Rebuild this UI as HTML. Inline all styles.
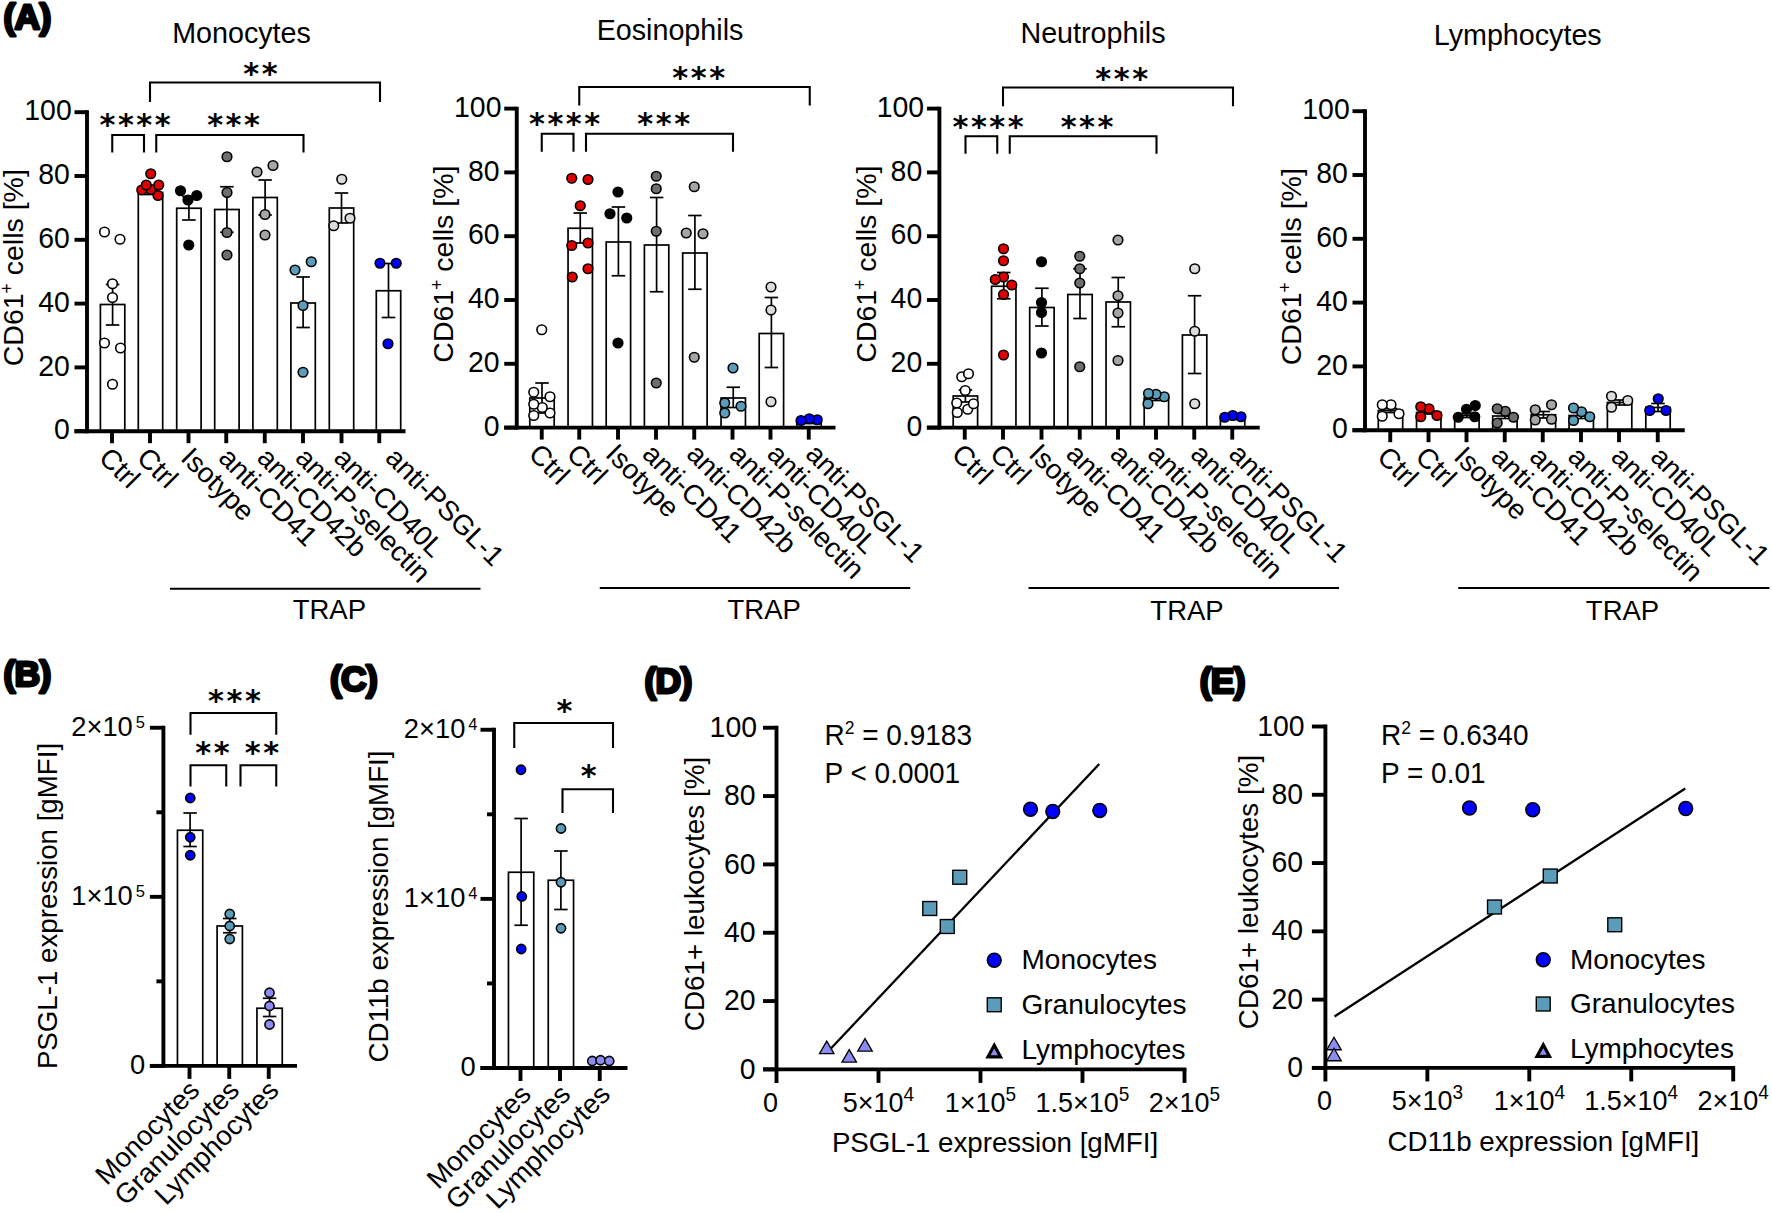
<!DOCTYPE html>
<html lang="en"><head><meta charset="utf-8"><title>Figure</title>
<style>html,body{margin:0;padding:0;background:#fff}svg{display:block}text{font-family:'Liberation Sans', Arial, Helvetica, sans-serif;fill:#000}text.st{font-family:"DejaVu Sans",sans-serif}</style>
</head><body>
<svg width="1772" height="1213" viewBox="0 0 1772 1213">
<rect x="0" y="0" width="1772" height="1213" fill="#fff"/>
<g>
<text x="241.50" y="42.50" font-size="28.7" text-anchor="middle">Monocytes</text>
<rect x="100.40" y="304.50" width="24.40" height="126.70" fill="#fff" stroke="#000" stroke-width="1.7"/>
<rect x="138.30" y="192.50" width="24.40" height="238.70" fill="#fff" stroke="#000" stroke-width="1.7"/>
<rect x="176.70" y="208.25" width="24.40" height="222.95" fill="#fff" stroke="#000" stroke-width="1.7"/>
<rect x="214.70" y="209.50" width="24.40" height="221.70" fill="#fff" stroke="#000" stroke-width="1.7"/>
<rect x="252.90" y="197.50" width="24.40" height="233.70" fill="#fff" stroke="#000" stroke-width="1.7"/>
<rect x="290.90" y="303.00" width="24.40" height="128.20" fill="#fff" stroke="#000" stroke-width="1.7"/>
<rect x="329.30" y="208.00" width="24.40" height="223.20" fill="#fff" stroke="#000" stroke-width="1.7"/>
<rect x="376.30" y="290.75" width="24.40" height="140.45" fill="#fff" stroke="#000" stroke-width="1.7"/>
<line x1="112.60" y1="284.50" x2="112.60" y2="325.00" stroke="#000" stroke-width="1.7" stroke-linecap="butt"/>
<line x1="105.85" y1="284.50" x2="119.35" y2="284.50" stroke="#000" stroke-width="1.7" stroke-linecap="butt"/>
<line x1="105.85" y1="325.00" x2="119.35" y2="325.00" stroke="#000" stroke-width="1.7" stroke-linecap="butt"/>
<line x1="150.50" y1="190.50" x2="150.50" y2="194.50" stroke="#000" stroke-width="1.7" stroke-linecap="butt"/>
<line x1="143.75" y1="190.50" x2="157.25" y2="190.50" stroke="#000" stroke-width="1.7" stroke-linecap="butt"/>
<line x1="143.75" y1="194.50" x2="157.25" y2="194.50" stroke="#000" stroke-width="1.7" stroke-linecap="butt"/>
<line x1="188.90" y1="196.50" x2="188.90" y2="220.00" stroke="#000" stroke-width="1.7" stroke-linecap="butt"/>
<line x1="182.15" y1="196.50" x2="195.65" y2="196.50" stroke="#000" stroke-width="1.7" stroke-linecap="butt"/>
<line x1="182.15" y1="220.00" x2="195.65" y2="220.00" stroke="#000" stroke-width="1.7" stroke-linecap="butt"/>
<line x1="226.90" y1="186.75" x2="226.90" y2="232.25" stroke="#000" stroke-width="1.7" stroke-linecap="butt"/>
<line x1="220.15" y1="186.75" x2="233.65" y2="186.75" stroke="#000" stroke-width="1.7" stroke-linecap="butt"/>
<line x1="220.15" y1="232.25" x2="233.65" y2="232.25" stroke="#000" stroke-width="1.7" stroke-linecap="butt"/>
<line x1="265.10" y1="180.00" x2="265.10" y2="215.00" stroke="#000" stroke-width="1.7" stroke-linecap="butt"/>
<line x1="258.35" y1="180.00" x2="271.85" y2="180.00" stroke="#000" stroke-width="1.7" stroke-linecap="butt"/>
<line x1="258.35" y1="215.00" x2="271.85" y2="215.00" stroke="#000" stroke-width="1.7" stroke-linecap="butt"/>
<line x1="303.10" y1="277.00" x2="303.10" y2="327.50" stroke="#000" stroke-width="1.7" stroke-linecap="butt"/>
<line x1="296.35" y1="277.00" x2="309.85" y2="277.00" stroke="#000" stroke-width="1.7" stroke-linecap="butt"/>
<line x1="296.35" y1="327.50" x2="309.85" y2="327.50" stroke="#000" stroke-width="1.7" stroke-linecap="butt"/>
<line x1="341.50" y1="193.00" x2="341.50" y2="223.00" stroke="#000" stroke-width="1.7" stroke-linecap="butt"/>
<line x1="334.75" y1="193.00" x2="348.25" y2="193.00" stroke="#000" stroke-width="1.7" stroke-linecap="butt"/>
<line x1="334.75" y1="223.00" x2="348.25" y2="223.00" stroke="#000" stroke-width="1.7" stroke-linecap="butt"/>
<line x1="388.50" y1="263.50" x2="388.50" y2="317.50" stroke="#000" stroke-width="1.7" stroke-linecap="butt"/>
<line x1="381.75" y1="263.50" x2="395.25" y2="263.50" stroke="#000" stroke-width="1.7" stroke-linecap="butt"/>
<line x1="381.75" y1="317.50" x2="395.25" y2="317.50" stroke="#000" stroke-width="1.7" stroke-linecap="butt"/>
<circle cx="112.50" cy="384.25" r="4.8" fill="#ffffff" stroke="#000" stroke-width="1.6"/>
<circle cx="120.50" cy="348.00" r="4.8" fill="#ffffff" stroke="#000" stroke-width="1.6"/>
<circle cx="104.50" cy="343.00" r="4.8" fill="#ffffff" stroke="#000" stroke-width="1.6"/>
<circle cx="112.50" cy="297.50" r="4.8" fill="#ffffff" stroke="#000" stroke-width="1.6"/>
<circle cx="112.50" cy="283.75" r="4.8" fill="#ffffff" stroke="#000" stroke-width="1.6"/>
<circle cx="120.00" cy="239.25" r="4.8" fill="#ffffff" stroke="#000" stroke-width="1.6"/>
<circle cx="104.50" cy="232.00" r="4.8" fill="#ffffff" stroke="#000" stroke-width="1.6"/>
<circle cx="158.00" cy="195.50" r="4.8" fill="#e00000" stroke="#000" stroke-width="1.6"/>
<circle cx="150.75" cy="189.25" r="4.8" fill="#e00000" stroke="#000" stroke-width="1.6"/>
<circle cx="141.75" cy="190.00" r="4.8" fill="#e00000" stroke="#000" stroke-width="1.6"/>
<circle cx="158.75" cy="185.00" r="4.8" fill="#e00000" stroke="#000" stroke-width="1.6"/>
<circle cx="146.25" cy="185.00" r="4.8" fill="#e00000" stroke="#000" stroke-width="1.6"/>
<circle cx="150.75" cy="173.75" r="4.8" fill="#e00000" stroke="#000" stroke-width="1.6"/>
<circle cx="188.75" cy="245.00" r="4.8" fill="#000000" stroke="#000" stroke-width="1.6"/>
<circle cx="188.00" cy="200.00" r="4.8" fill="#000000" stroke="#000" stroke-width="1.6"/>
<circle cx="196.75" cy="195.50" r="4.8" fill="#000000" stroke="#000" stroke-width="1.6"/>
<circle cx="180.50" cy="190.75" r="4.8" fill="#000000" stroke="#000" stroke-width="1.6"/>
<circle cx="227.00" cy="255.00" r="4.8" fill="#6e6e6e" stroke="#000" stroke-width="1.6"/>
<circle cx="227.00" cy="232.50" r="4.8" fill="#6e6e6e" stroke="#000" stroke-width="1.6"/>
<circle cx="227.00" cy="192.50" r="4.8" fill="#6e6e6e" stroke="#000" stroke-width="1.6"/>
<circle cx="227.00" cy="156.75" r="4.8" fill="#6e6e6e" stroke="#000" stroke-width="1.6"/>
<circle cx="265.00" cy="235.00" r="4.8" fill="#a6a6a6" stroke="#000" stroke-width="1.6"/>
<circle cx="265.00" cy="214.50" r="4.8" fill="#a6a6a6" stroke="#000" stroke-width="1.6"/>
<circle cx="273.00" cy="165.50" r="4.8" fill="#a6a6a6" stroke="#000" stroke-width="1.6"/>
<circle cx="257.00" cy="172.00" r="4.8" fill="#a6a6a6" stroke="#000" stroke-width="1.6"/>
<circle cx="303.00" cy="372.25" r="4.8" fill="#5b9db8" stroke="#000" stroke-width="1.6"/>
<circle cx="303.00" cy="305.50" r="4.8" fill="#5b9db8" stroke="#000" stroke-width="1.6"/>
<circle cx="311.25" cy="261.75" r="4.8" fill="#5b9db8" stroke="#000" stroke-width="1.6"/>
<circle cx="295.00" cy="270.00" r="4.8" fill="#5b9db8" stroke="#000" stroke-width="1.6"/>
<circle cx="350.00" cy="218.25" r="4.8" fill="#dcdcdc" stroke="#000" stroke-width="1.6"/>
<circle cx="333.75" cy="225.75" r="4.8" fill="#dcdcdc" stroke="#000" stroke-width="1.6"/>
<circle cx="341.75" cy="179.25" r="4.8" fill="#dcdcdc" stroke="#000" stroke-width="1.6"/>
<circle cx="388.00" cy="343.75" r="4.8" fill="#0000ff" stroke="#000" stroke-width="1.6"/>
<circle cx="396.25" cy="263.25" r="4.8" fill="#0000ff" stroke="#000" stroke-width="1.6"/>
<circle cx="380.00" cy="263.25" r="4.8" fill="#0000ff" stroke="#000" stroke-width="1.6"/>
<line x1="87.00" y1="110.25" x2="87.00" y2="433.15" stroke="#000" stroke-width="3.9" stroke-linecap="butt"/>
<line x1="74.50" y1="431.20" x2="405.50" y2="431.20" stroke="#000" stroke-width="3.9" stroke-linecap="butt"/>
<line x1="74.50" y1="431.20" x2="87.00" y2="431.20" stroke="#000" stroke-width="3.9" stroke-linecap="butt"/>
<text transform="translate(69.80 439.40) scale(1 1.04)" font-size="28.4" text-anchor="end">0</text>
<line x1="74.50" y1="367.40" x2="87.00" y2="367.40" stroke="#000" stroke-width="3.9" stroke-linecap="butt"/>
<text transform="translate(69.80 375.60) scale(1 1.04)" font-size="28.4" text-anchor="end">20</text>
<line x1="74.50" y1="303.60" x2="87.00" y2="303.60" stroke="#000" stroke-width="3.9" stroke-linecap="butt"/>
<text transform="translate(69.80 311.80) scale(1 1.04)" font-size="28.4" text-anchor="end">40</text>
<line x1="74.50" y1="239.80" x2="87.00" y2="239.80" stroke="#000" stroke-width="3.9" stroke-linecap="butt"/>
<text transform="translate(69.80 248.00) scale(1 1.04)" font-size="28.4" text-anchor="end">60</text>
<line x1="74.50" y1="176.00" x2="87.00" y2="176.00" stroke="#000" stroke-width="3.9" stroke-linecap="butt"/>
<text transform="translate(69.80 184.20) scale(1 1.04)" font-size="28.4" text-anchor="end">80</text>
<line x1="74.50" y1="112.20" x2="87.00" y2="112.20" stroke="#000" stroke-width="3.9" stroke-linecap="butt"/>
<text transform="translate(71.70 120.40) scale(1 1.04)" font-size="28.4" text-anchor="end">100</text>
<line x1="112.00" y1="431.20" x2="112.00" y2="443.20" stroke="#000" stroke-width="3.9" stroke-linecap="butt"/>
<text x="97.60" y="459.20" font-size="27.9" text-anchor="start" transform="rotate(45 97.60 459.20)">Ctrl</text>
<line x1="150.00" y1="431.20" x2="150.00" y2="443.20" stroke="#000" stroke-width="3.9" stroke-linecap="butt"/>
<text x="135.60" y="459.20" font-size="27.9" text-anchor="start" transform="rotate(45 135.60 459.20)">Ctrl</text>
<line x1="188.50" y1="431.20" x2="188.50" y2="443.20" stroke="#000" stroke-width="3.9" stroke-linecap="butt"/>
<text x="179.40" y="459.20" font-size="27.9" text-anchor="start" transform="rotate(45 179.40 459.20)">Isotype</text>
<line x1="226.25" y1="431.20" x2="226.25" y2="443.20" stroke="#000" stroke-width="3.9" stroke-linecap="butt"/>
<text x="217.15" y="459.20" font-size="27.9" text-anchor="start" transform="rotate(45 217.15 459.20)">anti-CD41</text>
<line x1="264.75" y1="431.20" x2="264.75" y2="443.20" stroke="#000" stroke-width="3.9" stroke-linecap="butt"/>
<text x="255.65" y="459.20" font-size="27.9" text-anchor="start" transform="rotate(45 255.65 459.20)">anti-CD42b</text>
<line x1="303.00" y1="431.20" x2="303.00" y2="443.20" stroke="#000" stroke-width="3.9" stroke-linecap="butt"/>
<text x="293.90" y="459.20" font-size="27.9" text-anchor="start" transform="rotate(45 293.90 459.20)">anti-P-selectin</text>
<line x1="341.50" y1="431.20" x2="341.50" y2="443.20" stroke="#000" stroke-width="3.9" stroke-linecap="butt"/>
<text x="332.40" y="459.20" font-size="27.9" text-anchor="start" transform="rotate(45 332.40 459.20)">anti-CD40L</text>
<line x1="379.25" y1="431.20" x2="379.25" y2="443.20" stroke="#000" stroke-width="3.9" stroke-linecap="butt"/>
<text x="384.05" y="459.20" font-size="27.9" text-anchor="start" transform="rotate(45 384.05 459.20)">anti-PSGL-1</text>
<text x="23.50" y="267.70" font-size="28.5" text-anchor="middle" transform="rotate(-90 23.50 267.70)">CD61<tspan font-size="17.5" dy="-10">+</tspan><tspan dy="10"> cells [%]</tspan></text>
<path d="M150.00 102.00V82.50H380.00V102.00" fill="none" stroke="#000" stroke-width="2.1" stroke-linejoin="miter"/>
<text x="243.37" y="84.00" class="st" font-weight="bold" font-size="30.4" letter-spacing="2.58">**</text>
<path d="M112.25 152.50V135.00H144.00V152.50" fill="none" stroke="#000" stroke-width="2.1" stroke-linejoin="miter"/>
<text x="99.41" y="134.50" class="st" font-weight="bold" font-size="30.4" letter-spacing="2.58">****</text>
<path d="M156.25 152.50V135.00H303.50V152.50" fill="none" stroke="#000" stroke-width="2.1" stroke-linejoin="miter"/>
<text x="207.14" y="134.50" class="st" font-weight="bold" font-size="30.4" letter-spacing="2.58">***</text>
<line x1="170.00" y1="588.75" x2="480.50" y2="588.75" stroke="#000" stroke-width="1.9" stroke-linecap="butt"/>
<text x="329.30" y="619.30" font-size="27.5" text-anchor="middle">TRAP</text>
</g>
<g>
<text x="670.00" y="40.00" font-size="28.7" text-anchor="middle">Eosinophils</text>
<rect x="529.80" y="398.00" width="24.40" height="29.60" fill="#fff" stroke="#000" stroke-width="1.7"/>
<rect x="568.05" y="228.25" width="24.40" height="199.35" fill="#fff" stroke="#000" stroke-width="1.7"/>
<rect x="606.20" y="242.00" width="24.40" height="185.60" fill="#fff" stroke="#000" stroke-width="1.7"/>
<rect x="644.40" y="245.00" width="24.40" height="182.60" fill="#fff" stroke="#000" stroke-width="1.7"/>
<rect x="682.70" y="253.00" width="24.40" height="174.60" fill="#fff" stroke="#000" stroke-width="1.7"/>
<rect x="721.05" y="398.00" width="24.40" height="29.60" fill="#fff" stroke="#000" stroke-width="1.7"/>
<rect x="759.20" y="333.50" width="24.40" height="94.10" fill="#fff" stroke="#000" stroke-width="1.7"/>
<rect x="796.80" y="422.50" width="24.40" height="5.10" fill="#fff" stroke="#000" stroke-width="1.7"/>
<line x1="542.00" y1="383.00" x2="542.00" y2="413.00" stroke="#000" stroke-width="1.7" stroke-linecap="butt"/>
<line x1="535.25" y1="383.00" x2="548.75" y2="383.00" stroke="#000" stroke-width="1.7" stroke-linecap="butt"/>
<line x1="535.25" y1="413.00" x2="548.75" y2="413.00" stroke="#000" stroke-width="1.7" stroke-linecap="butt"/>
<line x1="580.25" y1="213.00" x2="580.25" y2="243.00" stroke="#000" stroke-width="1.7" stroke-linecap="butt"/>
<line x1="573.50" y1="213.00" x2="587.00" y2="213.00" stroke="#000" stroke-width="1.7" stroke-linecap="butt"/>
<line x1="573.50" y1="243.00" x2="587.00" y2="243.00" stroke="#000" stroke-width="1.7" stroke-linecap="butt"/>
<line x1="618.40" y1="207.00" x2="618.40" y2="275.75" stroke="#000" stroke-width="1.7" stroke-linecap="butt"/>
<line x1="611.65" y1="207.00" x2="625.15" y2="207.00" stroke="#000" stroke-width="1.7" stroke-linecap="butt"/>
<line x1="611.65" y1="275.75" x2="625.15" y2="275.75" stroke="#000" stroke-width="1.7" stroke-linecap="butt"/>
<line x1="656.60" y1="197.50" x2="656.60" y2="291.75" stroke="#000" stroke-width="1.7" stroke-linecap="butt"/>
<line x1="649.85" y1="197.50" x2="663.35" y2="197.50" stroke="#000" stroke-width="1.7" stroke-linecap="butt"/>
<line x1="649.85" y1="291.75" x2="663.35" y2="291.75" stroke="#000" stroke-width="1.7" stroke-linecap="butt"/>
<line x1="694.90" y1="215.50" x2="694.90" y2="289.25" stroke="#000" stroke-width="1.7" stroke-linecap="butt"/>
<line x1="688.15" y1="215.50" x2="701.65" y2="215.50" stroke="#000" stroke-width="1.7" stroke-linecap="butt"/>
<line x1="688.15" y1="289.25" x2="701.65" y2="289.25" stroke="#000" stroke-width="1.7" stroke-linecap="butt"/>
<line x1="733.25" y1="387.25" x2="733.25" y2="407.50" stroke="#000" stroke-width="1.7" stroke-linecap="butt"/>
<line x1="726.50" y1="387.25" x2="740.00" y2="387.25" stroke="#000" stroke-width="1.7" stroke-linecap="butt"/>
<line x1="726.50" y1="407.50" x2="740.00" y2="407.50" stroke="#000" stroke-width="1.7" stroke-linecap="butt"/>
<line x1="771.40" y1="297.50" x2="771.40" y2="367.50" stroke="#000" stroke-width="1.7" stroke-linecap="butt"/>
<line x1="764.65" y1="297.50" x2="778.15" y2="297.50" stroke="#000" stroke-width="1.7" stroke-linecap="butt"/>
<line x1="764.65" y1="367.50" x2="778.15" y2="367.50" stroke="#000" stroke-width="1.7" stroke-linecap="butt"/>
<line x1="809.00" y1="421.50" x2="809.00" y2="423.50" stroke="#000" stroke-width="1.7" stroke-linecap="butt"/>
<line x1="802.25" y1="421.50" x2="815.75" y2="421.50" stroke="#000" stroke-width="1.7" stroke-linecap="butt"/>
<line x1="802.25" y1="423.50" x2="815.75" y2="423.50" stroke="#000" stroke-width="1.7" stroke-linecap="butt"/>
<circle cx="550.00" cy="413.00" r="4.8" fill="#ffffff" stroke="#000" stroke-width="1.6"/>
<circle cx="533.75" cy="415.50" r="4.8" fill="#ffffff" stroke="#000" stroke-width="1.6"/>
<circle cx="542.25" cy="407.50" r="4.8" fill="#ffffff" stroke="#000" stroke-width="1.6"/>
<circle cx="533.75" cy="404.25" r="4.8" fill="#ffffff" stroke="#000" stroke-width="1.6"/>
<circle cx="550.00" cy="396.75" r="4.8" fill="#ffffff" stroke="#000" stroke-width="1.6"/>
<circle cx="533.75" cy="392.25" r="4.8" fill="#ffffff" stroke="#000" stroke-width="1.6"/>
<circle cx="541.75" cy="329.75" r="4.8" fill="#ffffff" stroke="#000" stroke-width="1.6"/>
<circle cx="572.25" cy="277.00" r="4.8" fill="#e00000" stroke="#000" stroke-width="1.6"/>
<circle cx="588.00" cy="268.75" r="4.8" fill="#e00000" stroke="#000" stroke-width="1.6"/>
<circle cx="588.00" cy="243.00" r="4.8" fill="#e00000" stroke="#000" stroke-width="1.6"/>
<circle cx="571.75" cy="245.50" r="4.8" fill="#e00000" stroke="#000" stroke-width="1.6"/>
<circle cx="580.25" cy="205.75" r="4.8" fill="#e00000" stroke="#000" stroke-width="1.6"/>
<circle cx="588.00" cy="179.50" r="4.8" fill="#e00000" stroke="#000" stroke-width="1.6"/>
<circle cx="571.75" cy="178.25" r="4.8" fill="#e00000" stroke="#000" stroke-width="1.6"/>
<circle cx="618.00" cy="343.00" r="4.8" fill="#000000" stroke="#000" stroke-width="1.6"/>
<circle cx="626.75" cy="218.00" r="4.8" fill="#000000" stroke="#000" stroke-width="1.6"/>
<circle cx="610.00" cy="213.75" r="4.8" fill="#000000" stroke="#000" stroke-width="1.6"/>
<circle cx="618.00" cy="192.00" r="4.8" fill="#000000" stroke="#000" stroke-width="1.6"/>
<circle cx="656.25" cy="383.00" r="4.8" fill="#6e6e6e" stroke="#000" stroke-width="1.6"/>
<circle cx="656.25" cy="231.25" r="4.8" fill="#6e6e6e" stroke="#000" stroke-width="1.6"/>
<circle cx="656.25" cy="188.75" r="4.8" fill="#6e6e6e" stroke="#000" stroke-width="1.6"/>
<circle cx="656.25" cy="176.25" r="4.8" fill="#6e6e6e" stroke="#000" stroke-width="1.6"/>
<circle cx="694.25" cy="357.25" r="4.8" fill="#a6a6a6" stroke="#000" stroke-width="1.6"/>
<circle cx="703.00" cy="233.75" r="4.8" fill="#a6a6a6" stroke="#000" stroke-width="1.6"/>
<circle cx="686.25" cy="233.00" r="4.8" fill="#a6a6a6" stroke="#000" stroke-width="1.6"/>
<circle cx="694.25" cy="186.75" r="4.8" fill="#a6a6a6" stroke="#000" stroke-width="1.6"/>
<circle cx="724.75" cy="413.00" r="4.8" fill="#5b9db8" stroke="#000" stroke-width="1.6"/>
<circle cx="741.00" cy="406.25" r="4.8" fill="#5b9db8" stroke="#000" stroke-width="1.6"/>
<circle cx="724.75" cy="403.00" r="4.8" fill="#5b9db8" stroke="#000" stroke-width="1.6"/>
<circle cx="733.00" cy="368.00" r="4.8" fill="#5b9db8" stroke="#000" stroke-width="1.6"/>
<circle cx="771.00" cy="401.75" r="4.8" fill="#dcdcdc" stroke="#000" stroke-width="1.6"/>
<circle cx="771.00" cy="310.00" r="4.8" fill="#dcdcdc" stroke="#000" stroke-width="1.6"/>
<circle cx="771.00" cy="287.00" r="4.8" fill="#dcdcdc" stroke="#000" stroke-width="1.6"/>
<circle cx="817.25" cy="419.75" r="4.8" fill="#0000ff" stroke="#000" stroke-width="1.6"/>
<circle cx="809.25" cy="418.75" r="4.8" fill="#0000ff" stroke="#000" stroke-width="1.6"/>
<circle cx="801.00" cy="420.50" r="4.8" fill="#0000ff" stroke="#000" stroke-width="1.6"/>
<line x1="516.75" y1="106.65" x2="516.75" y2="429.55" stroke="#000" stroke-width="3.9" stroke-linecap="butt"/>
<line x1="504.25" y1="427.60" x2="835.50" y2="427.60" stroke="#000" stroke-width="3.9" stroke-linecap="butt"/>
<line x1="504.25" y1="427.60" x2="516.75" y2="427.60" stroke="#000" stroke-width="3.9" stroke-linecap="butt"/>
<text transform="translate(499.55 435.80) scale(1 1.04)" font-size="28.4" text-anchor="end">0</text>
<line x1="504.25" y1="363.80" x2="516.75" y2="363.80" stroke="#000" stroke-width="3.9" stroke-linecap="butt"/>
<text transform="translate(499.55 372.00) scale(1 1.04)" font-size="28.4" text-anchor="end">20</text>
<line x1="504.25" y1="300.00" x2="516.75" y2="300.00" stroke="#000" stroke-width="3.9" stroke-linecap="butt"/>
<text transform="translate(499.55 308.20) scale(1 1.04)" font-size="28.4" text-anchor="end">40</text>
<line x1="504.25" y1="236.20" x2="516.75" y2="236.20" stroke="#000" stroke-width="3.9" stroke-linecap="butt"/>
<text transform="translate(499.55 244.40) scale(1 1.04)" font-size="28.4" text-anchor="end">60</text>
<line x1="504.25" y1="172.40" x2="516.75" y2="172.40" stroke="#000" stroke-width="3.9" stroke-linecap="butt"/>
<text transform="translate(499.55 180.60) scale(1 1.04)" font-size="28.4" text-anchor="end">80</text>
<line x1="504.25" y1="108.60" x2="516.75" y2="108.60" stroke="#000" stroke-width="3.9" stroke-linecap="butt"/>
<text transform="translate(501.45 116.80) scale(1 1.04)" font-size="28.4" text-anchor="end">100</text>
<line x1="541.75" y1="427.60" x2="541.75" y2="439.60" stroke="#000" stroke-width="3.9" stroke-linecap="butt"/>
<text x="527.35" y="455.60" font-size="27.9" text-anchor="start" transform="rotate(45 527.35 455.60)">Ctrl</text>
<line x1="579.25" y1="427.60" x2="579.25" y2="439.60" stroke="#000" stroke-width="3.9" stroke-linecap="butt"/>
<text x="565.25" y="455.60" font-size="27.9" text-anchor="start" transform="rotate(45 565.25 455.60)">Ctrl</text>
<line x1="618.00" y1="427.60" x2="618.00" y2="439.60" stroke="#000" stroke-width="3.9" stroke-linecap="butt"/>
<text x="604.20" y="455.60" font-size="27.9" text-anchor="start" transform="rotate(45 604.20 455.60)">Isotype</text>
<line x1="656.00" y1="427.60" x2="656.00" y2="439.60" stroke="#000" stroke-width="3.9" stroke-linecap="butt"/>
<text x="641.10" y="455.60" font-size="27.9" text-anchor="start" transform="rotate(45 641.10 455.60)">anti-CD41</text>
<line x1="694.25" y1="427.60" x2="694.25" y2="439.60" stroke="#000" stroke-width="3.9" stroke-linecap="butt"/>
<text x="685.15" y="455.60" font-size="27.9" text-anchor="start" transform="rotate(45 685.15 455.60)">anti-CD42b</text>
<line x1="732.50" y1="427.60" x2="732.50" y2="439.60" stroke="#000" stroke-width="3.9" stroke-linecap="butt"/>
<text x="727.80" y="455.60" font-size="27.9" text-anchor="start" transform="rotate(45 727.80 455.60)">anti-P-selectin</text>
<line x1="770.50" y1="427.60" x2="770.50" y2="439.60" stroke="#000" stroke-width="3.9" stroke-linecap="butt"/>
<text x="765.80" y="455.60" font-size="27.9" text-anchor="start" transform="rotate(45 765.80 455.60)">anti-CD40L</text>
<line x1="808.75" y1="427.60" x2="808.75" y2="439.60" stroke="#000" stroke-width="3.9" stroke-linecap="butt"/>
<text x="804.25" y="455.60" font-size="27.9" text-anchor="start" transform="rotate(45 804.25 455.60)">anti-PSGL-1</text>
<text x="453.25" y="264.10" font-size="28.5" text-anchor="middle" transform="rotate(-90 453.25 264.10)">CD61<tspan font-size="17.5" dy="-10">+</tspan><tspan dy="10"> cells [%]</tspan></text>
<path d="M579.25 105.50V87.00H809.75V105.50" fill="none" stroke="#000" stroke-width="2.1" stroke-linejoin="miter"/>
<text x="672.24" y="88.00" class="st" font-weight="bold" font-size="30.4" letter-spacing="2.58">***</text>
<path d="M541.75 151.75V133.75H573.50V151.75" fill="none" stroke="#000" stroke-width="2.1" stroke-linejoin="miter"/>
<text x="528.91" y="134.00" class="st" font-weight="bold" font-size="30.4" letter-spacing="2.58">****</text>
<path d="M586.00 151.75V133.75H733.00V151.75" fill="none" stroke="#000" stroke-width="2.1" stroke-linejoin="miter"/>
<text x="637.24" y="134.00" class="st" font-weight="bold" font-size="30.4" letter-spacing="2.58">***</text>
<line x1="599.75" y1="588.00" x2="910.25" y2="588.00" stroke="#000" stroke-width="1.9" stroke-linecap="butt"/>
<text x="764.20" y="619.30" font-size="27.5" text-anchor="middle">TRAP</text>
</g>
<g>
<text x="1093.00" y="43.00" font-size="28.7" text-anchor="middle">Neutrophils</text>
<rect x="953.20" y="396.00" width="24.40" height="31.60" fill="#fff" stroke="#000" stroke-width="1.7"/>
<rect x="991.55" y="286.25" width="24.40" height="141.35" fill="#fff" stroke="#000" stroke-width="1.7"/>
<rect x="1029.70" y="307.50" width="24.40" height="120.10" fill="#fff" stroke="#000" stroke-width="1.7"/>
<rect x="1067.80" y="294.50" width="24.40" height="133.10" fill="#fff" stroke="#000" stroke-width="1.7"/>
<rect x="1106.05" y="302.00" width="24.40" height="125.60" fill="#fff" stroke="#000" stroke-width="1.7"/>
<rect x="1144.20" y="398.00" width="24.40" height="29.60" fill="#fff" stroke="#000" stroke-width="1.7"/>
<rect x="1182.40" y="335.00" width="24.40" height="92.60" fill="#fff" stroke="#000" stroke-width="1.7"/>
<rect x="1220.40" y="418.50" width="24.40" height="9.10" fill="#fff" stroke="#000" stroke-width="1.7"/>
<line x1="965.40" y1="390.00" x2="965.40" y2="402.00" stroke="#000" stroke-width="1.7" stroke-linecap="butt"/>
<line x1="958.65" y1="390.00" x2="972.15" y2="390.00" stroke="#000" stroke-width="1.7" stroke-linecap="butt"/>
<line x1="958.65" y1="402.00" x2="972.15" y2="402.00" stroke="#000" stroke-width="1.7" stroke-linecap="butt"/>
<line x1="1003.75" y1="272.50" x2="1003.75" y2="298.75" stroke="#000" stroke-width="1.7" stroke-linecap="butt"/>
<line x1="997.00" y1="272.50" x2="1010.50" y2="272.50" stroke="#000" stroke-width="1.7" stroke-linecap="butt"/>
<line x1="997.00" y1="298.75" x2="1010.50" y2="298.75" stroke="#000" stroke-width="1.7" stroke-linecap="butt"/>
<line x1="1041.90" y1="288.25" x2="1041.90" y2="326.00" stroke="#000" stroke-width="1.7" stroke-linecap="butt"/>
<line x1="1035.15" y1="288.25" x2="1048.65" y2="288.25" stroke="#000" stroke-width="1.7" stroke-linecap="butt"/>
<line x1="1035.15" y1="326.00" x2="1048.65" y2="326.00" stroke="#000" stroke-width="1.7" stroke-linecap="butt"/>
<line x1="1080.00" y1="268.75" x2="1080.00" y2="318.50" stroke="#000" stroke-width="1.7" stroke-linecap="butt"/>
<line x1="1073.25" y1="268.75" x2="1086.75" y2="268.75" stroke="#000" stroke-width="1.7" stroke-linecap="butt"/>
<line x1="1073.25" y1="318.50" x2="1086.75" y2="318.50" stroke="#000" stroke-width="1.7" stroke-linecap="butt"/>
<line x1="1118.25" y1="277.50" x2="1118.25" y2="326.75" stroke="#000" stroke-width="1.7" stroke-linecap="butt"/>
<line x1="1111.50" y1="277.50" x2="1125.00" y2="277.50" stroke="#000" stroke-width="1.7" stroke-linecap="butt"/>
<line x1="1111.50" y1="326.75" x2="1125.00" y2="326.75" stroke="#000" stroke-width="1.7" stroke-linecap="butt"/>
<line x1="1156.40" y1="395.50" x2="1156.40" y2="400.50" stroke="#000" stroke-width="1.7" stroke-linecap="butt"/>
<line x1="1149.65" y1="395.50" x2="1163.15" y2="395.50" stroke="#000" stroke-width="1.7" stroke-linecap="butt"/>
<line x1="1149.65" y1="400.50" x2="1163.15" y2="400.50" stroke="#000" stroke-width="1.7" stroke-linecap="butt"/>
<line x1="1194.60" y1="295.75" x2="1194.60" y2="373.50" stroke="#000" stroke-width="1.7" stroke-linecap="butt"/>
<line x1="1187.85" y1="295.75" x2="1201.35" y2="295.75" stroke="#000" stroke-width="1.7" stroke-linecap="butt"/>
<line x1="1187.85" y1="373.50" x2="1201.35" y2="373.50" stroke="#000" stroke-width="1.7" stroke-linecap="butt"/>
<line x1="1232.60" y1="417.50" x2="1232.60" y2="419.50" stroke="#000" stroke-width="1.7" stroke-linecap="butt"/>
<line x1="1225.85" y1="417.50" x2="1239.35" y2="417.50" stroke="#000" stroke-width="1.7" stroke-linecap="butt"/>
<line x1="1225.85" y1="419.50" x2="1239.35" y2="419.50" stroke="#000" stroke-width="1.7" stroke-linecap="butt"/>
<circle cx="957.25" cy="412.50" r="4.8" fill="#ffffff" stroke="#000" stroke-width="1.6"/>
<circle cx="967.75" cy="409.25" r="4.8" fill="#ffffff" stroke="#000" stroke-width="1.6"/>
<circle cx="973.50" cy="403.75" r="4.8" fill="#ffffff" stroke="#000" stroke-width="1.6"/>
<circle cx="956.75" cy="403.00" r="4.8" fill="#ffffff" stroke="#000" stroke-width="1.6"/>
<circle cx="965.25" cy="390.50" r="4.8" fill="#ffffff" stroke="#000" stroke-width="1.6"/>
<circle cx="961.75" cy="376.75" r="4.8" fill="#ffffff" stroke="#000" stroke-width="1.6"/>
<circle cx="968.50" cy="373.75" r="4.8" fill="#ffffff" stroke="#000" stroke-width="1.6"/>
<circle cx="1003.50" cy="355.00" r="4.8" fill="#e00000" stroke="#000" stroke-width="1.6"/>
<circle cx="1003.50" cy="294.50" r="4.8" fill="#e00000" stroke="#000" stroke-width="1.6"/>
<circle cx="1011.75" cy="285.00" r="4.8" fill="#e00000" stroke="#000" stroke-width="1.6"/>
<circle cx="1003.50" cy="277.00" r="4.8" fill="#e00000" stroke="#000" stroke-width="1.6"/>
<circle cx="995.25" cy="279.50" r="4.8" fill="#e00000" stroke="#000" stroke-width="1.6"/>
<circle cx="1003.50" cy="260.75" r="4.8" fill="#e00000" stroke="#000" stroke-width="1.6"/>
<circle cx="1003.50" cy="248.75" r="4.8" fill="#e00000" stroke="#000" stroke-width="1.6"/>
<circle cx="1041.50" cy="353.00" r="4.8" fill="#000000" stroke="#000" stroke-width="1.6"/>
<circle cx="1041.50" cy="312.50" r="4.8" fill="#000000" stroke="#000" stroke-width="1.6"/>
<circle cx="1041.50" cy="302.50" r="4.8" fill="#000000" stroke="#000" stroke-width="1.6"/>
<circle cx="1041.50" cy="261.75" r="4.8" fill="#000000" stroke="#000" stroke-width="1.6"/>
<circle cx="1079.75" cy="366.75" r="4.8" fill="#6e6e6e" stroke="#000" stroke-width="1.6"/>
<circle cx="1079.75" cy="283.00" r="4.8" fill="#6e6e6e" stroke="#000" stroke-width="1.6"/>
<circle cx="1079.75" cy="268.75" r="4.8" fill="#6e6e6e" stroke="#000" stroke-width="1.6"/>
<circle cx="1079.75" cy="256.25" r="4.8" fill="#6e6e6e" stroke="#000" stroke-width="1.6"/>
<circle cx="1118.00" cy="360.50" r="4.8" fill="#a6a6a6" stroke="#000" stroke-width="1.6"/>
<circle cx="1118.00" cy="313.00" r="4.8" fill="#a6a6a6" stroke="#000" stroke-width="1.6"/>
<circle cx="1118.00" cy="295.75" r="4.8" fill="#a6a6a6" stroke="#000" stroke-width="1.6"/>
<circle cx="1118.00" cy="240.00" r="4.8" fill="#a6a6a6" stroke="#000" stroke-width="1.6"/>
<circle cx="1148.00" cy="403.75" r="4.8" fill="#5b9db8" stroke="#000" stroke-width="1.6"/>
<circle cx="1164.25" cy="396.75" r="4.8" fill="#5b9db8" stroke="#000" stroke-width="1.6"/>
<circle cx="1156.00" cy="394.25" r="4.8" fill="#5b9db8" stroke="#000" stroke-width="1.6"/>
<circle cx="1148.50" cy="393.50" r="4.8" fill="#5b9db8" stroke="#000" stroke-width="1.6"/>
<circle cx="1194.75" cy="403.75" r="4.8" fill="#dcdcdc" stroke="#000" stroke-width="1.6"/>
<circle cx="1194.75" cy="331.25" r="4.8" fill="#dcdcdc" stroke="#000" stroke-width="1.6"/>
<circle cx="1194.75" cy="268.75" r="4.8" fill="#dcdcdc" stroke="#000" stroke-width="1.6"/>
<circle cx="1241.00" cy="416.75" r="4.8" fill="#0000ff" stroke="#000" stroke-width="1.6"/>
<circle cx="1232.75" cy="415.50" r="4.8" fill="#0000ff" stroke="#000" stroke-width="1.6"/>
<circle cx="1224.75" cy="417.25" r="4.8" fill="#0000ff" stroke="#000" stroke-width="1.6"/>
<line x1="939.40" y1="106.65" x2="939.40" y2="429.55" stroke="#000" stroke-width="3.9" stroke-linecap="butt"/>
<line x1="926.90" y1="427.60" x2="1259.75" y2="427.60" stroke="#000" stroke-width="3.9" stroke-linecap="butt"/>
<line x1="926.90" y1="427.60" x2="939.40" y2="427.60" stroke="#000" stroke-width="3.9" stroke-linecap="butt"/>
<text transform="translate(922.20 435.80) scale(1 1.04)" font-size="28.4" text-anchor="end">0</text>
<line x1="926.90" y1="363.80" x2="939.40" y2="363.80" stroke="#000" stroke-width="3.9" stroke-linecap="butt"/>
<text transform="translate(922.20 372.00) scale(1 1.04)" font-size="28.4" text-anchor="end">20</text>
<line x1="926.90" y1="300.00" x2="939.40" y2="300.00" stroke="#000" stroke-width="3.9" stroke-linecap="butt"/>
<text transform="translate(922.20 308.20) scale(1 1.04)" font-size="28.4" text-anchor="end">40</text>
<line x1="926.90" y1="236.20" x2="939.40" y2="236.20" stroke="#000" stroke-width="3.9" stroke-linecap="butt"/>
<text transform="translate(922.20 244.40) scale(1 1.04)" font-size="28.4" text-anchor="end">60</text>
<line x1="926.90" y1="172.40" x2="939.40" y2="172.40" stroke="#000" stroke-width="3.9" stroke-linecap="butt"/>
<text transform="translate(922.20 180.60) scale(1 1.04)" font-size="28.4" text-anchor="end">80</text>
<line x1="926.90" y1="108.60" x2="939.40" y2="108.60" stroke="#000" stroke-width="3.9" stroke-linecap="butt"/>
<text transform="translate(924.10 116.80) scale(1 1.04)" font-size="28.4" text-anchor="end">100</text>
<line x1="964.75" y1="427.60" x2="964.75" y2="439.60" stroke="#000" stroke-width="3.9" stroke-linecap="butt"/>
<text x="950.35" y="455.60" font-size="27.9" text-anchor="start" transform="rotate(45 950.35 455.60)">Ctrl</text>
<line x1="1003.00" y1="427.60" x2="1003.00" y2="439.60" stroke="#000" stroke-width="3.9" stroke-linecap="butt"/>
<text x="988.60" y="455.60" font-size="27.9" text-anchor="start" transform="rotate(45 988.60 455.60)">Ctrl</text>
<line x1="1041.50" y1="427.60" x2="1041.50" y2="439.60" stroke="#000" stroke-width="3.9" stroke-linecap="butt"/>
<text x="1027.50" y="455.60" font-size="27.9" text-anchor="start" transform="rotate(45 1027.50 455.60)">Isotype</text>
<line x1="1079.75" y1="427.60" x2="1079.75" y2="439.60" stroke="#000" stroke-width="3.9" stroke-linecap="butt"/>
<text x="1064.85" y="455.60" font-size="27.9" text-anchor="start" transform="rotate(45 1064.85 455.60)">anti-CD41</text>
<line x1="1118.00" y1="427.60" x2="1118.00" y2="439.60" stroke="#000" stroke-width="3.9" stroke-linecap="butt"/>
<text x="1108.70" y="455.60" font-size="27.9" text-anchor="start" transform="rotate(45 1108.70 455.60)">anti-CD42b</text>
<line x1="1156.00" y1="427.60" x2="1156.00" y2="439.60" stroke="#000" stroke-width="3.9" stroke-linecap="butt"/>
<text x="1146.30" y="455.60" font-size="27.9" text-anchor="start" transform="rotate(45 1146.30 455.60)">anti-P-selectin</text>
<line x1="1194.25" y1="427.60" x2="1194.25" y2="439.60" stroke="#000" stroke-width="3.9" stroke-linecap="butt"/>
<text x="1189.15" y="455.60" font-size="27.9" text-anchor="start" transform="rotate(45 1189.15 455.60)">anti-CD40L</text>
<line x1="1232.25" y1="427.60" x2="1232.25" y2="439.60" stroke="#000" stroke-width="3.9" stroke-linecap="butt"/>
<text x="1227.55" y="455.60" font-size="27.9" text-anchor="start" transform="rotate(45 1227.55 455.60)">anti-PSGL-1</text>
<text x="875.90" y="264.10" font-size="28.5" text-anchor="middle" transform="rotate(-90 875.90 264.10)">CD61<tspan font-size="17.5" dy="-10">+</tspan><tspan dy="10"> cells [%]</tspan></text>
<path d="M1003.00 106.25V87.50H1233.00V106.25" fill="none" stroke="#000" stroke-width="2.1" stroke-linejoin="miter"/>
<text x="1095.24" y="88.50" class="st" font-weight="bold" font-size="30.4" letter-spacing="2.58">***</text>
<path d="M965.50 153.75V136.25H997.25V153.75" fill="none" stroke="#000" stroke-width="2.1" stroke-linejoin="miter"/>
<text x="952.41" y="136.50" class="st" font-weight="bold" font-size="30.4" letter-spacing="2.58">****</text>
<path d="M1009.75 153.75V136.25H1156.50V153.75" fill="none" stroke="#000" stroke-width="2.1" stroke-linejoin="miter"/>
<text x="1060.64" y="136.50" class="st" font-weight="bold" font-size="30.4" letter-spacing="2.58">***</text>
<line x1="1028.50" y1="588.00" x2="1339.00" y2="588.00" stroke="#000" stroke-width="1.9" stroke-linecap="butt"/>
<text x="1187.00" y="619.75" font-size="27.5" text-anchor="middle">TRAP</text>
</g>
<g>
<text x="1517.75" y="45.00" font-size="28.7" text-anchor="middle">Lymphocytes</text>
<rect x="1378.30" y="410.50" width="24.40" height="19.70" fill="#fff" stroke="#000" stroke-width="1.7"/>
<rect x="1416.55" y="412.50" width="24.40" height="17.70" fill="#fff" stroke="#000" stroke-width="1.7"/>
<rect x="1454.70" y="415.50" width="24.40" height="14.70" fill="#fff" stroke="#000" stroke-width="1.7"/>
<rect x="1492.70" y="416.00" width="24.40" height="14.20" fill="#fff" stroke="#000" stroke-width="1.7"/>
<rect x="1531.20" y="414.75" width="24.40" height="15.45" fill="#fff" stroke="#000" stroke-width="1.7"/>
<rect x="1569.05" y="415.50" width="24.40" height="14.70" fill="#fff" stroke="#000" stroke-width="1.7"/>
<rect x="1607.40" y="402.50" width="24.40" height="27.70" fill="#fff" stroke="#000" stroke-width="1.7"/>
<rect x="1645.80" y="407.50" width="24.40" height="22.70" fill="#fff" stroke="#000" stroke-width="1.7"/>
<line x1="1390.50" y1="408.50" x2="1390.50" y2="412.50" stroke="#000" stroke-width="1.7" stroke-linecap="butt"/>
<line x1="1383.75" y1="408.50" x2="1397.25" y2="408.50" stroke="#000" stroke-width="1.7" stroke-linecap="butt"/>
<line x1="1383.75" y1="412.50" x2="1397.25" y2="412.50" stroke="#000" stroke-width="1.7" stroke-linecap="butt"/>
<line x1="1428.75" y1="411.00" x2="1428.75" y2="414.00" stroke="#000" stroke-width="1.7" stroke-linecap="butt"/>
<line x1="1422.00" y1="411.00" x2="1435.50" y2="411.00" stroke="#000" stroke-width="1.7" stroke-linecap="butt"/>
<line x1="1422.00" y1="414.00" x2="1435.50" y2="414.00" stroke="#000" stroke-width="1.7" stroke-linecap="butt"/>
<line x1="1466.90" y1="413.50" x2="1466.90" y2="417.50" stroke="#000" stroke-width="1.7" stroke-linecap="butt"/>
<line x1="1460.15" y1="413.50" x2="1473.65" y2="413.50" stroke="#000" stroke-width="1.7" stroke-linecap="butt"/>
<line x1="1460.15" y1="417.50" x2="1473.65" y2="417.50" stroke="#000" stroke-width="1.7" stroke-linecap="butt"/>
<line x1="1504.90" y1="413.50" x2="1504.90" y2="418.50" stroke="#000" stroke-width="1.7" stroke-linecap="butt"/>
<line x1="1498.15" y1="413.50" x2="1511.65" y2="413.50" stroke="#000" stroke-width="1.7" stroke-linecap="butt"/>
<line x1="1498.15" y1="418.50" x2="1511.65" y2="418.50" stroke="#000" stroke-width="1.7" stroke-linecap="butt"/>
<line x1="1543.40" y1="411.50" x2="1543.40" y2="418.00" stroke="#000" stroke-width="1.7" stroke-linecap="butt"/>
<line x1="1536.65" y1="411.50" x2="1550.15" y2="411.50" stroke="#000" stroke-width="1.7" stroke-linecap="butt"/>
<line x1="1536.65" y1="418.00" x2="1550.15" y2="418.00" stroke="#000" stroke-width="1.7" stroke-linecap="butt"/>
<line x1="1581.25" y1="412.50" x2="1581.25" y2="418.50" stroke="#000" stroke-width="1.7" stroke-linecap="butt"/>
<line x1="1574.50" y1="412.50" x2="1588.00" y2="412.50" stroke="#000" stroke-width="1.7" stroke-linecap="butt"/>
<line x1="1574.50" y1="418.50" x2="1588.00" y2="418.50" stroke="#000" stroke-width="1.7" stroke-linecap="butt"/>
<line x1="1619.60" y1="400.00" x2="1619.60" y2="405.00" stroke="#000" stroke-width="1.7" stroke-linecap="butt"/>
<line x1="1612.85" y1="400.00" x2="1626.35" y2="400.00" stroke="#000" stroke-width="1.7" stroke-linecap="butt"/>
<line x1="1612.85" y1="405.00" x2="1626.35" y2="405.00" stroke="#000" stroke-width="1.7" stroke-linecap="butt"/>
<line x1="1658.00" y1="403.50" x2="1658.00" y2="411.50" stroke="#000" stroke-width="1.7" stroke-linecap="butt"/>
<line x1="1651.25" y1="403.50" x2="1664.75" y2="403.50" stroke="#000" stroke-width="1.7" stroke-linecap="butt"/>
<line x1="1651.25" y1="411.50" x2="1664.75" y2="411.50" stroke="#000" stroke-width="1.7" stroke-linecap="butt"/>
<circle cx="1399.00" cy="413.75" r="4.8" fill="#ffffff" stroke="#000" stroke-width="1.6"/>
<circle cx="1382.25" cy="416.25" r="4.8" fill="#ffffff" stroke="#000" stroke-width="1.6"/>
<circle cx="1391.00" cy="404.75" r="4.8" fill="#ffffff" stroke="#000" stroke-width="1.6"/>
<circle cx="1382.25" cy="404.75" r="4.8" fill="#ffffff" stroke="#000" stroke-width="1.6"/>
<circle cx="1437.00" cy="415.50" r="4.8" fill="#e00000" stroke="#000" stroke-width="1.6"/>
<circle cx="1420.75" cy="416.75" r="4.8" fill="#e00000" stroke="#000" stroke-width="1.6"/>
<circle cx="1429.00" cy="408.75" r="4.8" fill="#e00000" stroke="#000" stroke-width="1.6"/>
<circle cx="1420.75" cy="406.75" r="4.8" fill="#e00000" stroke="#000" stroke-width="1.6"/>
<circle cx="1474.75" cy="416.75" r="4.8" fill="#000000" stroke="#000" stroke-width="1.6"/>
<circle cx="1458.25" cy="417.25" r="4.8" fill="#000000" stroke="#000" stroke-width="1.6"/>
<circle cx="1466.50" cy="409.25" r="4.8" fill="#000000" stroke="#000" stroke-width="1.6"/>
<circle cx="1475.25" cy="405.50" r="4.8" fill="#000000" stroke="#000" stroke-width="1.6"/>
<circle cx="1497.25" cy="423.00" r="4.8" fill="#6e6e6e" stroke="#000" stroke-width="1.6"/>
<circle cx="1513.50" cy="417.25" r="4.8" fill="#6e6e6e" stroke="#000" stroke-width="1.6"/>
<circle cx="1505.25" cy="411.25" r="4.8" fill="#6e6e6e" stroke="#000" stroke-width="1.6"/>
<circle cx="1497.25" cy="408.75" r="4.8" fill="#6e6e6e" stroke="#000" stroke-width="1.6"/>
<circle cx="1551.50" cy="419.25" r="4.8" fill="#a6a6a6" stroke="#000" stroke-width="1.6"/>
<circle cx="1535.25" cy="420.00" r="4.8" fill="#a6a6a6" stroke="#000" stroke-width="1.6"/>
<circle cx="1535.25" cy="409.75" r="4.8" fill="#a6a6a6" stroke="#000" stroke-width="1.6"/>
<circle cx="1551.50" cy="404.75" r="4.8" fill="#a6a6a6" stroke="#000" stroke-width="1.6"/>
<circle cx="1573.50" cy="420.50" r="4.8" fill="#5b9db8" stroke="#000" stroke-width="1.6"/>
<circle cx="1589.75" cy="416.75" r="4.8" fill="#5b9db8" stroke="#000" stroke-width="1.6"/>
<circle cx="1581.50" cy="411.75" r="4.8" fill="#5b9db8" stroke="#000" stroke-width="1.6"/>
<circle cx="1573.50" cy="408.00" r="4.8" fill="#5b9db8" stroke="#000" stroke-width="1.6"/>
<circle cx="1611.50" cy="407.25" r="4.8" fill="#dcdcdc" stroke="#000" stroke-width="1.6"/>
<circle cx="1627.75" cy="400.50" r="4.8" fill="#dcdcdc" stroke="#000" stroke-width="1.6"/>
<circle cx="1611.50" cy="396.25" r="4.8" fill="#dcdcdc" stroke="#000" stroke-width="1.6"/>
<circle cx="1666.00" cy="410.50" r="4.8" fill="#0000ff" stroke="#000" stroke-width="1.6"/>
<circle cx="1649.75" cy="410.50" r="4.8" fill="#0000ff" stroke="#000" stroke-width="1.6"/>
<circle cx="1658.25" cy="398.75" r="4.8" fill="#0000ff" stroke="#000" stroke-width="1.6"/>
<line x1="1365.00" y1="109.25" x2="1365.00" y2="432.15" stroke="#000" stroke-width="3.9" stroke-linecap="butt"/>
<line x1="1352.50" y1="430.20" x2="1684.75" y2="430.20" stroke="#000" stroke-width="3.9" stroke-linecap="butt"/>
<line x1="1352.50" y1="430.20" x2="1365.00" y2="430.20" stroke="#000" stroke-width="3.9" stroke-linecap="butt"/>
<text transform="translate(1347.80 438.40) scale(1 1.04)" font-size="28.4" text-anchor="end">0</text>
<line x1="1352.50" y1="366.40" x2="1365.00" y2="366.40" stroke="#000" stroke-width="3.9" stroke-linecap="butt"/>
<text transform="translate(1347.80 374.60) scale(1 1.04)" font-size="28.4" text-anchor="end">20</text>
<line x1="1352.50" y1="302.60" x2="1365.00" y2="302.60" stroke="#000" stroke-width="3.9" stroke-linecap="butt"/>
<text transform="translate(1347.80 310.80) scale(1 1.04)" font-size="28.4" text-anchor="end">40</text>
<line x1="1352.50" y1="238.80" x2="1365.00" y2="238.80" stroke="#000" stroke-width="3.9" stroke-linecap="butt"/>
<text transform="translate(1347.80 247.00) scale(1 1.04)" font-size="28.4" text-anchor="end">60</text>
<line x1="1352.50" y1="175.00" x2="1365.00" y2="175.00" stroke="#000" stroke-width="3.9" stroke-linecap="butt"/>
<text transform="translate(1347.80 183.20) scale(1 1.04)" font-size="28.4" text-anchor="end">80</text>
<line x1="1352.50" y1="111.20" x2="1365.00" y2="111.20" stroke="#000" stroke-width="3.9" stroke-linecap="butt"/>
<text transform="translate(1349.70 119.40) scale(1 1.04)" font-size="28.4" text-anchor="end">100</text>
<line x1="1390.25" y1="430.20" x2="1390.25" y2="442.20" stroke="#000" stroke-width="3.9" stroke-linecap="butt"/>
<text x="1375.85" y="458.20" font-size="27.9" text-anchor="start" transform="rotate(45 1375.85 458.20)">Ctrl</text>
<line x1="1428.50" y1="430.20" x2="1428.50" y2="442.20" stroke="#000" stroke-width="3.9" stroke-linecap="butt"/>
<text x="1414.10" y="458.20" font-size="27.9" text-anchor="start" transform="rotate(45 1414.10 458.20)">Ctrl</text>
<line x1="1466.50" y1="430.20" x2="1466.50" y2="442.20" stroke="#000" stroke-width="3.9" stroke-linecap="butt"/>
<text x="1452.50" y="458.20" font-size="27.9" text-anchor="start" transform="rotate(45 1452.50 458.20)">Isotype</text>
<line x1="1504.75" y1="430.20" x2="1504.75" y2="442.20" stroke="#000" stroke-width="3.9" stroke-linecap="butt"/>
<text x="1489.85" y="458.20" font-size="27.9" text-anchor="start" transform="rotate(45 1489.85 458.20)">anti-CD41</text>
<line x1="1542.75" y1="430.20" x2="1542.75" y2="442.20" stroke="#000" stroke-width="3.9" stroke-linecap="butt"/>
<text x="1528.35" y="458.20" font-size="27.9" text-anchor="start" transform="rotate(45 1528.35 458.20)">anti-CD42b</text>
<line x1="1581.00" y1="430.20" x2="1581.00" y2="442.20" stroke="#000" stroke-width="3.9" stroke-linecap="butt"/>
<text x="1566.60" y="458.20" font-size="27.9" text-anchor="start" transform="rotate(45 1566.60 458.20)">anti-P-selectin</text>
<line x1="1619.00" y1="430.20" x2="1619.00" y2="442.20" stroke="#000" stroke-width="3.9" stroke-linecap="butt"/>
<text x="1609.70" y="458.20" font-size="27.9" text-anchor="start" transform="rotate(45 1609.70 458.20)">anti-CD40L</text>
<line x1="1657.75" y1="430.20" x2="1657.75" y2="442.20" stroke="#000" stroke-width="3.9" stroke-linecap="butt"/>
<text x="1649.35" y="458.20" font-size="27.9" text-anchor="start" transform="rotate(45 1649.35 458.20)">anti-PSGL-1</text>
<text x="1301.50" y="266.70" font-size="28.5" text-anchor="middle" transform="rotate(-90 1301.50 266.70)">CD61<tspan font-size="17.5" dy="-10">+</tspan><tspan dy="10"> cells [%]</tspan></text>
<line x1="1458.25" y1="588.00" x2="1769.50" y2="588.00" stroke="#000" stroke-width="1.9" stroke-linecap="butt"/>
<text x="1622.50" y="619.75" font-size="27.5" text-anchor="middle">TRAP</text>
</g>
<text x="3.40" y="28.65" font-size="35.5" font-weight="bold" letter-spacing="-0.7" stroke="#000" stroke-width="2.8" stroke-linejoin="round">(A)</text>
<rect x="177.45" y="830.25" width="25.30" height="235.65" fill="#fff" stroke="#000" stroke-width="1.7"/>
<rect x="217.10" y="926.00" width="25.30" height="139.90" fill="#fff" stroke="#000" stroke-width="1.7"/>
<rect x="256.95" y="1008.25" width="25.30" height="57.65" fill="#fff" stroke="#000" stroke-width="1.7"/>
<line x1="190.10" y1="813.00" x2="190.10" y2="846.50" stroke="#000" stroke-width="1.7" stroke-linecap="butt"/>
<line x1="183.35" y1="813.00" x2="196.85" y2="813.00" stroke="#000" stroke-width="1.7" stroke-linecap="butt"/>
<line x1="183.35" y1="846.50" x2="196.85" y2="846.50" stroke="#000" stroke-width="1.7" stroke-linecap="butt"/>
<line x1="229.75" y1="918.50" x2="229.75" y2="932.75" stroke="#000" stroke-width="1.7" stroke-linecap="butt"/>
<line x1="223.00" y1="918.50" x2="236.50" y2="918.50" stroke="#000" stroke-width="1.7" stroke-linecap="butt"/>
<line x1="223.00" y1="932.75" x2="236.50" y2="932.75" stroke="#000" stroke-width="1.7" stroke-linecap="butt"/>
<line x1="269.60" y1="998.25" x2="269.60" y2="1016.50" stroke="#000" stroke-width="1.7" stroke-linecap="butt"/>
<line x1="262.85" y1="998.25" x2="276.35" y2="998.25" stroke="#000" stroke-width="1.7" stroke-linecap="butt"/>
<line x1="262.85" y1="1016.50" x2="276.35" y2="1016.50" stroke="#000" stroke-width="1.7" stroke-linecap="butt"/>
<circle cx="190.25" cy="798.00" r="4.6" fill="#0000ff" stroke="#000" stroke-width="1.6"/>
<circle cx="190.25" cy="837.25" r="4.6" fill="#0000ff" stroke="#000" stroke-width="1.6"/>
<circle cx="190.25" cy="855.25" r="4.6" fill="#0000ff" stroke="#000" stroke-width="1.6"/>
<circle cx="229.75" cy="914.00" r="4.6" fill="#5b9db8" stroke="#000" stroke-width="1.6"/>
<circle cx="229.75" cy="926.00" r="4.6" fill="#5b9db8" stroke="#000" stroke-width="1.6"/>
<circle cx="229.75" cy="939.00" r="4.6" fill="#5b9db8" stroke="#000" stroke-width="1.6"/>
<circle cx="269.50" cy="992.75" r="4.6" fill="#8c8cf0" stroke="#000" stroke-width="1.6"/>
<circle cx="269.50" cy="1006.00" r="4.6" fill="#8c8cf0" stroke="#000" stroke-width="1.6"/>
<circle cx="269.50" cy="1024.50" r="4.6" fill="#8c8cf0" stroke="#000" stroke-width="1.6"/>
<line x1="163.40" y1="725.80" x2="163.40" y2="1067.85" stroke="#000" stroke-width="3.9" stroke-linecap="butt"/>
<line x1="149.90" y1="1065.90" x2="297.00" y2="1065.90" stroke="#000" stroke-width="3.9" stroke-linecap="butt"/>
<line x1="149.90" y1="1065.90" x2="163.40" y2="1065.90" stroke="#000" stroke-width="3.9" stroke-linecap="butt"/>
<line x1="156.40" y1="981.36" x2="163.40" y2="981.36" stroke="#000" stroke-width="3.9" stroke-linecap="butt"/>
<line x1="149.90" y1="896.83" x2="163.40" y2="896.83" stroke="#000" stroke-width="3.9" stroke-linecap="butt"/>
<line x1="156.40" y1="812.29" x2="163.40" y2="812.29" stroke="#000" stroke-width="3.9" stroke-linecap="butt"/>
<line x1="149.90" y1="727.75" x2="163.40" y2="727.75" stroke="#000" stroke-width="3.9" stroke-linecap="butt"/>
<text transform="translate(145.10 1074.10) scale(1 1.04)" font-size="27.3" text-anchor="end">0</text>
<text transform="translate(144.90 905.02) scale(1 1.04)" font-size="27.3" text-anchor="end">1×10<tspan font-size="16.5" dy="-8" dx="3">5</tspan></text>
<text transform="translate(144.90 735.95) scale(1 1.04)" font-size="27.3" text-anchor="end">2×10<tspan font-size="16.5" dy="-8" dx="3">5</tspan></text>
<line x1="189.50" y1="1065.90" x2="189.50" y2="1078.90" stroke="#000" stroke-width="3.9" stroke-linecap="butt"/>
<text x="201.00" y="1091.90" font-size="27.6" text-anchor="end" transform="rotate(-45 201.00 1091.90)">Monocytes</text>
<line x1="229.25" y1="1065.90" x2="229.25" y2="1078.90" stroke="#000" stroke-width="3.9" stroke-linecap="butt"/>
<text x="240.75" y="1091.90" font-size="27.6" text-anchor="end" transform="rotate(-45 240.75 1091.90)">Granulocytes</text>
<line x1="268.75" y1="1065.90" x2="268.75" y2="1078.90" stroke="#000" stroke-width="3.9" stroke-linecap="butt"/>
<text x="280.25" y="1091.90" font-size="27.6" text-anchor="end" transform="rotate(-45 280.25 1091.90)">Lymphocytes</text>
<text x="57.00" y="906.00" font-size="27.7" text-anchor="middle" transform="rotate(-90 57.00 906.00)">PSGL-1 expression [gMFI]</text>
<path d="M190.50 734.75V713.00H276.25V734.75" fill="none" stroke="#000" stroke-width="2.1" stroke-linejoin="miter"/>
<text x="208.04" y="711.00" class="st" font-weight="bold" font-size="30.4" letter-spacing="2.58">***</text>
<path d="M190.50 786.50V765.25H226.25V786.50" fill="none" stroke="#000" stroke-width="2.1" stroke-linejoin="miter"/>
<text x="195.27" y="763.00" class="st" font-weight="bold" font-size="30.4" letter-spacing="2.58">**</text>
<path d="M240.50 786.50V765.25H276.25V786.50" fill="none" stroke="#000" stroke-width="2.1" stroke-linejoin="miter"/>
<text x="244.87" y="763.00" class="st" font-weight="bold" font-size="30.4" letter-spacing="2.58">**</text>
<text x="3.40" y="686.00" font-size="35.5" font-weight="bold" letter-spacing="-0.7" stroke="#000" stroke-width="2.8" stroke-linejoin="round">(B)</text>
<rect x="508.45" y="872.25" width="25.30" height="195.75" fill="#fff" stroke="#000" stroke-width="1.7"/>
<rect x="548.25" y="880.25" width="25.30" height="187.75" fill="#fff" stroke="#000" stroke-width="1.7"/>
<rect x="587.85" y="1067.00" width="25.30" height="1.00" fill="#fff" stroke="#000" stroke-width="1.7"/>
<line x1="521.10" y1="818.50" x2="521.10" y2="925.25" stroke="#000" stroke-width="1.7" stroke-linecap="butt"/>
<line x1="514.35" y1="818.50" x2="527.85" y2="818.50" stroke="#000" stroke-width="1.7" stroke-linecap="butt"/>
<line x1="514.35" y1="925.25" x2="527.85" y2="925.25" stroke="#000" stroke-width="1.7" stroke-linecap="butt"/>
<line x1="560.90" y1="851.00" x2="560.90" y2="909.50" stroke="#000" stroke-width="1.7" stroke-linecap="butt"/>
<line x1="554.15" y1="851.00" x2="567.65" y2="851.00" stroke="#000" stroke-width="1.7" stroke-linecap="butt"/>
<line x1="554.15" y1="909.50" x2="567.65" y2="909.50" stroke="#000" stroke-width="1.7" stroke-linecap="butt"/>
<circle cx="521.00" cy="769.75" r="4.6" fill="#0000ff" stroke="#000" stroke-width="1.6"/>
<circle cx="521.75" cy="896.50" r="4.6" fill="#0000ff" stroke="#000" stroke-width="1.6"/>
<circle cx="521.25" cy="949.00" r="4.6" fill="#0000ff" stroke="#000" stroke-width="1.6"/>
<circle cx="561.00" cy="828.50" r="4.6" fill="#5b9db8" stroke="#000" stroke-width="1.6"/>
<circle cx="561.00" cy="882.25" r="4.6" fill="#5b9db8" stroke="#000" stroke-width="1.6"/>
<circle cx="561.00" cy="928.25" r="4.6" fill="#5b9db8" stroke="#000" stroke-width="1.6"/>
<circle cx="592.25" cy="1061.00" r="4.6" fill="#8c8cf0" stroke="#000" stroke-width="1.6"/>
<circle cx="600.50" cy="1060.25" r="4.6" fill="#8c8cf0" stroke="#000" stroke-width="1.6"/>
<circle cx="609.25" cy="1061.00" r="4.6" fill="#8c8cf0" stroke="#000" stroke-width="1.6"/>
<line x1="494.00" y1="727.80" x2="494.00" y2="1069.95" stroke="#000" stroke-width="3.9" stroke-linecap="butt"/>
<line x1="480.50" y1="1068.00" x2="627.50" y2="1068.00" stroke="#000" stroke-width="3.9" stroke-linecap="butt"/>
<line x1="480.50" y1="1068.00" x2="494.00" y2="1068.00" stroke="#000" stroke-width="3.9" stroke-linecap="butt"/>
<line x1="487.00" y1="983.44" x2="494.00" y2="983.44" stroke="#000" stroke-width="3.9" stroke-linecap="butt"/>
<line x1="480.50" y1="898.88" x2="494.00" y2="898.88" stroke="#000" stroke-width="3.9" stroke-linecap="butt"/>
<line x1="487.00" y1="814.31" x2="494.00" y2="814.31" stroke="#000" stroke-width="3.9" stroke-linecap="butt"/>
<line x1="480.50" y1="729.75" x2="494.00" y2="729.75" stroke="#000" stroke-width="3.9" stroke-linecap="butt"/>
<text transform="translate(475.70 1076.20) scale(1 1.04)" font-size="27.3" text-anchor="end">0</text>
<text transform="translate(477.50 907.07) scale(1 1.04)" font-size="27.3" text-anchor="end">1×10<tspan font-size="16.5" dy="-8" dx="3">4</tspan></text>
<text transform="translate(477.50 737.95) scale(1 1.04)" font-size="27.3" text-anchor="end">2×10<tspan font-size="16.5" dy="-8" dx="3">4</tspan></text>
<line x1="520.50" y1="1068.00" x2="520.50" y2="1081.00" stroke="#000" stroke-width="3.9" stroke-linecap="butt"/>
<text x="532.50" y="1096.00" font-size="27.6" text-anchor="end" transform="rotate(-45 532.50 1096.00)">Monocytes</text>
<line x1="560.00" y1="1068.00" x2="560.00" y2="1081.00" stroke="#000" stroke-width="3.9" stroke-linecap="butt"/>
<text x="572.00" y="1096.00" font-size="27.6" text-anchor="end" transform="rotate(-45 572.00 1096.00)">Granulocytes</text>
<line x1="599.75" y1="1068.00" x2="599.75" y2="1081.00" stroke="#000" stroke-width="3.9" stroke-linecap="butt"/>
<text x="611.75" y="1096.00" font-size="27.6" text-anchor="end" transform="rotate(-45 611.75 1096.00)">Lymphocytes</text>
<text x="387.50" y="906.50" font-size="27.7" text-anchor="middle" transform="rotate(-90 387.50 906.50)">CD11b expression [gMFI]</text>
<path d="M514.25 748.00V723.00H613.00V748.00" fill="none" stroke="#000" stroke-width="2.1" stroke-linejoin="miter"/>
<text x="556.60" y="720.75" class="st" font-weight="bold" font-size="30.4" letter-spacing="2.58">*</text>
<path d="M562.50 813.00V789.25H613.00V813.00" fill="none" stroke="#000" stroke-width="2.1" stroke-linejoin="miter"/>
<text x="580.85" y="785.75" class="st" font-weight="bold" font-size="30.4" letter-spacing="2.58">*</text>
<text x="329.90" y="691.00" font-size="35.5" font-weight="bold" letter-spacing="-0.7" stroke="#000" stroke-width="2.8" stroke-linejoin="round">(C)</text>
<line x1="829.25" y1="1050.25" x2="1099.25" y2="764" stroke="#000" stroke-width="2.3"/>
<path d="M826.75 1041.05L834.00 1053.55H819.50Z" fill="#8c8cf0" stroke="#000" stroke-width="1.3" stroke-linejoin="miter"/>
<path d="M849.25 1049.55L856.50 1062.05H842.00Z" fill="#8c8cf0" stroke="#000" stroke-width="1.3" stroke-linejoin="miter"/>
<path d="M865.00 1038.55L872.25 1051.05H857.75Z" fill="#8c8cf0" stroke="#000" stroke-width="1.3" stroke-linejoin="miter"/>
<rect x="952.80" y="870.30" width="13.90" height="13.90" fill="#5b9db8" stroke="#000" stroke-width="1.4"/>
<rect x="922.80" y="901.55" width="13.90" height="13.90" fill="#5b9db8" stroke="#000" stroke-width="1.4"/>
<rect x="940.30" y="919.55" width="13.90" height="13.90" fill="#5b9db8" stroke="#000" stroke-width="1.4"/>
<circle cx="1030.50" cy="809.25" r="6.9" fill="#0000ff" stroke="#000" stroke-width="1.5"/>
<circle cx="1052.75" cy="811.50" r="6.9" fill="#0000ff" stroke="#000" stroke-width="1.5"/>
<circle cx="1099.75" cy="810.50" r="6.9" fill="#0000ff" stroke="#000" stroke-width="1.5"/>
<line x1="776.50" y1="725.80" x2="776.50" y2="1082.90" stroke="#000" stroke-width="3.9" stroke-linecap="butt"/>
<line x1="763.00" y1="1069.40" x2="1186.45" y2="1069.40" stroke="#000" stroke-width="3.9" stroke-linecap="butt"/>
<line x1="763.00" y1="1069.40" x2="776.50" y2="1069.40" stroke="#000" stroke-width="3.9" stroke-linecap="butt"/>
<text transform="translate(755.50 1078.50) scale(1 1.04)" font-size="28.4" text-anchor="end">0</text>
<line x1="763.00" y1="1001.07" x2="776.50" y2="1001.07" stroke="#000" stroke-width="3.9" stroke-linecap="butt"/>
<text transform="translate(755.50 1010.17) scale(1 1.04)" font-size="28.4" text-anchor="end">20</text>
<line x1="763.00" y1="932.74" x2="776.50" y2="932.74" stroke="#000" stroke-width="3.9" stroke-linecap="butt"/>
<text transform="translate(755.50 941.84) scale(1 1.04)" font-size="28.4" text-anchor="end">40</text>
<line x1="763.00" y1="864.41" x2="776.50" y2="864.41" stroke="#000" stroke-width="3.9" stroke-linecap="butt"/>
<text transform="translate(755.50 873.51) scale(1 1.04)" font-size="28.4" text-anchor="end">60</text>
<line x1="763.00" y1="796.08" x2="776.50" y2="796.08" stroke="#000" stroke-width="3.9" stroke-linecap="butt"/>
<text transform="translate(755.50 805.18) scale(1 1.04)" font-size="28.4" text-anchor="end">80</text>
<line x1="763.00" y1="727.75" x2="776.50" y2="727.75" stroke="#000" stroke-width="3.9" stroke-linecap="butt"/>
<text transform="translate(757.00 736.85) scale(1 1.04)" font-size="28.4" text-anchor="end">100</text>
<line x1="878.50" y1="1069.40" x2="878.50" y2="1082.90" stroke="#000" stroke-width="3.9" stroke-linecap="butt"/>
<line x1="980.50" y1="1069.40" x2="980.50" y2="1082.90" stroke="#000" stroke-width="3.9" stroke-linecap="butt"/>
<line x1="1082.50" y1="1069.40" x2="1082.50" y2="1082.90" stroke="#000" stroke-width="3.9" stroke-linecap="butt"/>
<line x1="1184.50" y1="1069.40" x2="1184.50" y2="1082.90" stroke="#000" stroke-width="3.9" stroke-linecap="butt"/>
<text transform="translate(770.50 1111.80) scale(1 1.04)" font-size="27" text-anchor="middle">0</text>
<text transform="translate(878.50 1111.80) scale(1 1.04)" font-size="27" text-anchor="middle">5×10<tspan font-size="19" dy="-10.5">4</tspan></text>
<text transform="translate(980.50 1111.80) scale(1 1.04)" font-size="27" text-anchor="middle">1×10<tspan font-size="19" dy="-10.5">5</tspan></text>
<text transform="translate(1082.50 1111.80) scale(1 1.04)" font-size="27" text-anchor="middle">1.5×10<tspan font-size="19" dy="-10.5">5</tspan></text>
<text transform="translate(1184.50 1111.80) scale(1 1.04)" font-size="27" text-anchor="middle">2×10<tspan font-size="19" dy="-10.5">5</tspan></text>
<text x="995.00" y="1151.50" font-size="27.7" text-anchor="middle">PSGL-1 expression [gMFI]</text>
<text x="704.25" y="894.00" font-size="27.8" text-anchor="middle" transform="rotate(-90 704.25 894.00)">CD61+ leukocytes [%]</text>
<circle cx="994.25" cy="960.25" r="6.9" fill="#0000ff" stroke="#000" stroke-width="1.5"/>
<rect x="987.30" y="997.80" width="13.90" height="13.90" fill="#5b9db8" stroke="#000" stroke-width="1.4"/>
<path d="M994.25 1045.30L1000.50 1056.80H988.00Z" fill="#8c8cf0" stroke="#000" stroke-width="3.2" stroke-linejoin="miter"/>
<text x="1021.50" y="969.00" font-size="28" text-anchor="start">Monocytes</text>
<text x="1021.50" y="1013.50" font-size="28" text-anchor="start">Granulocytes</text>
<text x="1021.50" y="1058.50" font-size="28" text-anchor="start">Lymphocytes</text>
<text transform="translate(824.50 745) scale(1 1.035)" font-size="28">R<tspan font-size="17.5" dy="-10.5">2</tspan><tspan dy="10.5"> = 0.9183</tspan></text>
<text transform="translate(824.50 782.5) scale(1 1.035)" font-size="28">P &lt; 0.0001</text>
<text x="644.50" y="693.20" font-size="35.5" font-weight="bold" letter-spacing="-0.7" stroke="#000" stroke-width="2.8" stroke-linejoin="round">(D)</text>
<line x1="1334.5" y1="1016.5" x2="1685.25" y2="788.5" stroke="#000" stroke-width="2.3"/>
<path d="M1334.00 1037.25L1341.25 1049.75H1326.75Z" fill="#8c8cf0" stroke="#000" stroke-width="1.3" stroke-linejoin="miter"/>
<path d="M1334.00 1048.25L1341.25 1060.75H1326.75Z" fill="#8c8cf0" stroke="#000" stroke-width="1.3" stroke-linejoin="miter"/>
<rect x="1543.30" y="869.05" width="13.90" height="13.90" fill="#5b9db8" stroke="#000" stroke-width="1.4"/>
<rect x="1487.55" y="900.05" width="13.90" height="13.90" fill="#5b9db8" stroke="#000" stroke-width="1.4"/>
<rect x="1607.80" y="917.80" width="13.90" height="13.90" fill="#5b9db8" stroke="#000" stroke-width="1.4"/>
<circle cx="1469.50" cy="808.00" r="6.9" fill="#0000ff" stroke="#000" stroke-width="1.5"/>
<circle cx="1532.75" cy="809.75" r="6.9" fill="#0000ff" stroke="#000" stroke-width="1.5"/>
<circle cx="1685.75" cy="808.50" r="6.9" fill="#0000ff" stroke="#000" stroke-width="1.5"/>
<line x1="1325.40" y1="724.55" x2="1325.40" y2="1081.40" stroke="#000" stroke-width="3.9" stroke-linecap="butt"/>
<line x1="1311.90" y1="1067.90" x2="1735.15" y2="1067.90" stroke="#000" stroke-width="3.9" stroke-linecap="butt"/>
<line x1="1311.90" y1="1067.90" x2="1325.40" y2="1067.90" stroke="#000" stroke-width="3.9" stroke-linecap="butt"/>
<text transform="translate(1303.10 1077.00) scale(1 1.04)" font-size="28.4" text-anchor="end">0</text>
<line x1="1311.90" y1="999.62" x2="1325.40" y2="999.62" stroke="#000" stroke-width="3.9" stroke-linecap="butt"/>
<text transform="translate(1303.10 1008.72) scale(1 1.04)" font-size="28.4" text-anchor="end">20</text>
<line x1="1311.90" y1="931.34" x2="1325.40" y2="931.34" stroke="#000" stroke-width="3.9" stroke-linecap="butt"/>
<text transform="translate(1303.10 940.44) scale(1 1.04)" font-size="28.4" text-anchor="end">40</text>
<line x1="1311.90" y1="863.06" x2="1325.40" y2="863.06" stroke="#000" stroke-width="3.9" stroke-linecap="butt"/>
<text transform="translate(1303.10 872.16) scale(1 1.04)" font-size="28.4" text-anchor="end">60</text>
<line x1="1311.90" y1="794.78" x2="1325.40" y2="794.78" stroke="#000" stroke-width="3.9" stroke-linecap="butt"/>
<text transform="translate(1303.10 803.88) scale(1 1.04)" font-size="28.4" text-anchor="end">80</text>
<line x1="1311.90" y1="726.50" x2="1325.40" y2="726.50" stroke="#000" stroke-width="3.9" stroke-linecap="butt"/>
<text transform="translate(1304.60 735.60) scale(1 1.04)" font-size="28.4" text-anchor="end">100</text>
<line x1="1427.35" y1="1067.90" x2="1427.35" y2="1081.40" stroke="#000" stroke-width="3.9" stroke-linecap="butt"/>
<line x1="1529.30" y1="1067.90" x2="1529.30" y2="1081.40" stroke="#000" stroke-width="3.9" stroke-linecap="butt"/>
<line x1="1631.25" y1="1067.90" x2="1631.25" y2="1081.40" stroke="#000" stroke-width="3.9" stroke-linecap="butt"/>
<line x1="1733.20" y1="1067.90" x2="1733.20" y2="1081.40" stroke="#000" stroke-width="3.9" stroke-linecap="butt"/>
<text transform="translate(1324.40 1110.30) scale(1 1.04)" font-size="27" text-anchor="middle">0</text>
<text transform="translate(1427.35 1110.30) scale(1 1.04)" font-size="27" text-anchor="middle">5×10<tspan font-size="19" dy="-10.5">3</tspan></text>
<text transform="translate(1529.30 1110.30) scale(1 1.04)" font-size="27" text-anchor="middle">1×10<tspan font-size="19" dy="-10.5">4</tspan></text>
<text transform="translate(1631.25 1110.30) scale(1 1.04)" font-size="27" text-anchor="middle">1.5×10<tspan font-size="19" dy="-10.5">4</tspan></text>
<text transform="translate(1733.20 1110.30) scale(1 1.04)" font-size="27" text-anchor="middle">2×10<tspan font-size="19" dy="-10.5">4</tspan></text>
<text x="1543.40" y="1151.00" font-size="27.7" text-anchor="middle">CD11b expression [gMFI]</text>
<text x="1257.50" y="892.00" font-size="27.8" text-anchor="middle" transform="rotate(-90 1257.50 892.00)">CD61+ leukocytes [%]</text>
<circle cx="1543.25" cy="959.75" r="6.9" fill="#0000ff" stroke="#000" stroke-width="1.5"/>
<rect x="1536.30" y="997.05" width="13.90" height="13.90" fill="#5b9db8" stroke="#000" stroke-width="1.4"/>
<path d="M1543.25 1044.80L1549.50 1056.30H1537.00Z" fill="#8c8cf0" stroke="#000" stroke-width="3.2" stroke-linejoin="miter"/>
<text x="1570.00" y="968.50" font-size="28" text-anchor="start">Monocytes</text>
<text x="1570.00" y="1012.75" font-size="28" text-anchor="start">Granulocytes</text>
<text x="1570.00" y="1057.75" font-size="28" text-anchor="start">Lymphocytes</text>
<text transform="translate(1381.00 745) scale(1 1.035)" font-size="28">R<tspan font-size="17.5" dy="-10.5">2</tspan><tspan dy="10.5"> = 0.6340</tspan></text>
<text transform="translate(1381.00 782.5) scale(1 1.035)" font-size="28">P = 0.01</text>
<text x="1199.70" y="693.00" font-size="35.5" font-weight="bold" letter-spacing="-0.7" stroke="#000" stroke-width="2.8" stroke-linejoin="round">(E)</text>
</svg></body></html>
